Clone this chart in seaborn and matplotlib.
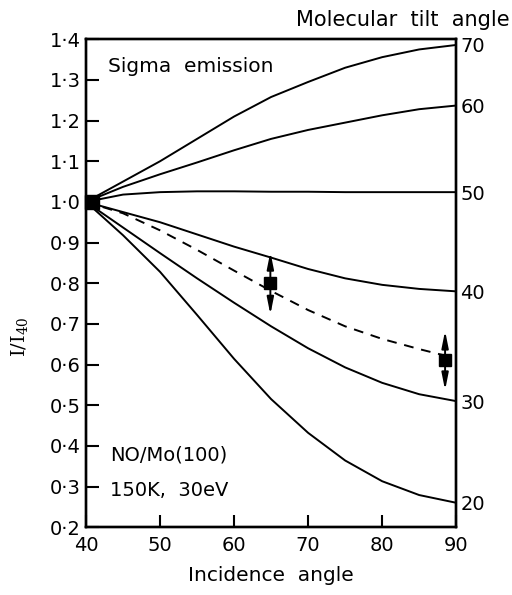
import numpy as np
import pandas as pd
import matplotlib
matplotlib.use('Agg')
import matplotlib.pyplot as plt
import seaborn as sns

# ── Data ────────────────────────────────────────────────────────────────────
incidence = [40, 45, 50, 55, 60, 65, 70, 75, 80, 85, 90]
tilt_curves = {
    '70': [1.0, 1.05, 1.10, 1.155, 1.21, 1.258, 1.295, 1.33, 1.356, 1.375, 1.386],
    '60': [1.0, 1.037, 1.068, 1.097, 1.127, 1.155, 1.177, 1.195, 1.213, 1.228, 1.237],
    '50': [1.0, 1.018, 1.024, 1.026, 1.026, 1.025, 1.025, 1.024, 1.024, 1.024, 1.024],
    '40': [1.0, 0.975, 0.95, 0.92, 0.89, 0.863, 0.835, 0.812, 0.796, 0.786, 0.78],
    '30': [1.0, 0.937, 0.874, 0.812, 0.752, 0.694, 0.64, 0.593, 0.555, 0.527, 0.51],
    '20': [1.0, 0.918, 0.828, 0.722, 0.614, 0.515, 0.432, 0.364, 0.313, 0.279, 0.26],
}
dash_x = [40, 45, 50, 55, 60, 65, 70, 75, 80, 85, 88.5]
dash_y = [1.0, 0.972, 0.93, 0.882, 0.831, 0.781, 0.734, 0.694, 0.663, 0.638, 0.622]

exp_x = [64.9, 88.5]
exp_y = [0.80, 0.61]
exp_err = [0.077, 0.073]

ref_x = [40.8]
ref_y = [1.0]

y_ticks = [0.2, 0.3, 0.4, 0.5, 0.6, 0.7, 0.8, 0.9, 1.0, 1.1, 1.2, 1.3, 1.4]
x_ticks = [40, 50, 60, 70, 80, 90]

rows = []
for tilt, vals in tilt_curves.items():
    for xi, yi in zip(incidence, vals):
        rows.append({'incidence': xi, 'ratio': yi, 'tilt': tilt})
df = pd.DataFrame(rows)

# ── Style ───────────────────────────────────────────────────────────────────
sns.set_style('ticks')
plt.rcParams['font.family'] = ['DejaVu Sans']
plt.rcParams.update({
    'axes.linewidth': 1.7, 'axes.edgecolor': 'black', 'text.color': 'black',
    'axes.labelcolor': 'black', 'xtick.color': 'black', 'ytick.color': 'black',
})
FS = 14

fig = plt.figure(figsize=(5.12, 5.95), dpi=100)
ax = fig.add_axes([0.168, 0.114, 0.723, 0.820])

sns.lineplot(data=df, x='incidence', y='ratio', hue='tilt',
             palette=['black'] * len(tilt_curves), estimator=None,
             legend=False, lw=1.4, ax=ax)
sns.lineplot(x=dash_x, y=dash_y, color='black', lw=1.4,
             linestyle=(0, (5, 4)), ax=ax)

# reference point at 40 deg
ax.plot(ref_x, ref_y, 's', color='black', ms=10, clip_on=False, zorder=5)

# experimental points with double arrows
ax.plot(exp_x, exp_y, 's', color='black', ms=8.5, zorder=5)
for xi, yi, ei in zip(exp_x, exp_y, exp_err):
    for sgn in (1, -1):
        ax.annotate('', xy=(xi, yi + sgn * ei), xytext=(xi, yi),
                    arrowprops=dict(arrowstyle='-|>,head_length=1.0,head_width=0.2',
                                    color='black', lw=1.4, shrinkA=0, shrinkB=0))

ax.set_xlim(40, 90)
ax.set_ylim(0.2, 1.4)
ax.set_xticks(x_ticks)
ax.set_yticks(y_ticks)
ax.set_yticklabels([f'{v:.1f}'.replace('.', '·') for v in y_ticks], fontsize=FS)
ax.set_xticklabels([str(v) for v in x_ticks], fontsize=FS)
ax.tick_params(direction='in', length=9, width=1.5, pad=4)
ax.tick_params(axis='x', pad=6)

ax.set_xlabel('Incidence  angle', fontsize=FS + 0.5, labelpad=8)
ax.set_ylabel(r'$\mathregular{I/I_{40}}$', fontsize=FS, family='DejaVu Serif')
ax.yaxis.set_label_coords(-0.15, 0.39)

# right axis: tilt angle of each curve
ax2 = ax.twinx()
ax2.set_ylim(ax.get_ylim())
ax2.set_yticks([v[-1] for v in tilt_curves.values()])
ax2.set_yticklabels(list(tilt_curves.keys()), fontsize=FS)
ax2.tick_params(length=0, pad=3)
ax2.spines['right'].set_linewidth(1.7)

ax.text(0.06, 0.945, 'Sigma  emission', transform=ax.transAxes,
        fontsize=FS + 0.5, va='center', ha='left')
ax.text(0.065, 0.148, 'NO/Mo(100)', transform=ax.transAxes,
        fontsize=FS, va='center', ha='left')
ax.text(0.065, 0.076, '150K,  30eV', transform=ax.transAxes,
        fontsize=FS, va='center', ha='left')
fig.text(0.995, 0.966, 'Molecular  tilt  angle', fontsize=FS + 1,
         ha='right', va='center')

fig.savefig('out.png', dpi=100)
